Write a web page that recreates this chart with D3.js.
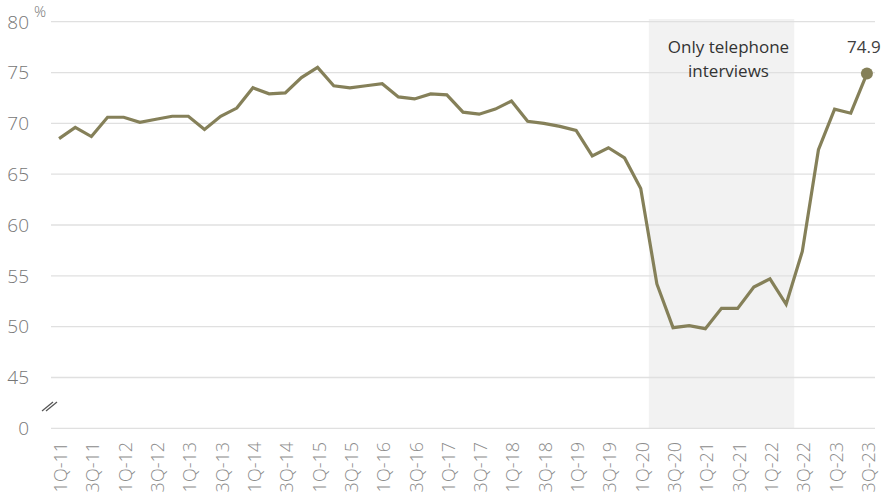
<!DOCTYPE html>
<html><head><meta charset="utf-8">
<script src="https://cdn.jsdelivr.net/npm/d3@7"></script>
<style>body{margin:0;background:#fff;}svg{display:block;font-family:"Open Sans","Noto Sans",sans-serif;}</style>
</head><body><svg id="c" width="884" height="499"></svg>
<script>
const years = d3.range(11, 24);
const quarters = [];
years.forEach(y => [1,2,3,4].forEach(q => { if (!(y === 23 && q === 4)) quarters.push(q + "Q-" + y); }));
const values = [68.5,69.6,68.7,70.6,70.6,70.1,70.4,70.7,70.7,69.4,
  70.7,71.5,73.5,72.9,73.0,74.5,75.5,73.7,73.5,73.7,
  73.9,72.6,72.4,72.9,72.8,71.1,70.9,71.4,72.2,70.2,
  70.0,69.7,69.3,66.8,67.6,66.6,63.6,54.2,49.9,50.1,
  49.8,51.8,51.8,53.9,54.7,52.2,57.4,67.4,71.4,71.0,74.9];
const yTicks = [45,50,55,60,65,70,75,80];
const shadeRange = ["2Q-20","2Q-22"];
const shadeText = ["Only telephone","interviews"];

const svg = d3.select("#c");
const x = d3.scaleBand().domain(quarters).range([51, 875]);
const y = d3.scaleLinear().domain([40, 80]).range([428.3, 21.7]);
const cx = d => x(d) + x.bandwidth()/2;

// shading
svg.append("rect").attr("x", x(shadeRange[0])).attr("y", 19)
  .attr("width", x(shadeRange[1]) + x.bandwidth() - x(shadeRange[0]))
  .attr("height", y(40) - 19).attr("fill", "#f2f2f2");

// gridlines
const grid = yTicks.concat([40]);
svg.append("g").selectAll("line").data(grid).join("line")
  .attr("x1", 51).attr("x2", 875).attr("y1", d => y(d)).attr("y2", d => y(d))
  .attr("stroke", "#e0e0e0").attr("stroke-width", 1.3);

// y labels
svg.append("g").selectAll("text").data(grid).join("text")
  .attr("x", 29).attr("y", d => y(d)).attr("dy", "0.36em").attr("text-anchor", "end")
  .attr("font-size", 19).attr("font-weight", 300).attr("fill", "#767676").text(d => d === 40 ? "0" : d);
svg.append("text").attr("x", 34).attr("y", 17).attr("font-size", 15).attr("font-weight", 300).attr("fill", "#767676").text("%");

// axis break
[0, 4].forEach(o => svg.append("line").attr("x1", 42 + o).attr("y1", 411).attr("x2", 53 + o).attr("y2", 402)
  .attr("stroke", "#555").attr("stroke-width", 1.2));

// x labels
svg.append("g").selectAll("text").data(quarters.filter((d, i) => i % 2 === 0)).join("text")
  .attr("transform", d => `translate(${cx(d) + 1.5},442) rotate(-90)`)
  .attr("dy", "0.36em").attr("text-anchor", "end").attr("font-size", 18).attr("font-weight", 300)
  .attr("fill", "#8c8c8c").text(d => d);

// line
const line = d3.line().x((d, i) => cx(quarters[i])).y(d => y(d));
svg.append("path").datum(values).attr("d", line).attr("fill", "none")
  .attr("stroke", "#858059").attr("stroke-width", 3.2).attr("stroke-linejoin", "miter");

const last = quarters.length - 1;
svg.append("circle").attr("cx", cx(quarters[last])).attr("cy", y(values[last])).attr("r", 6).attr("fill", "#858059");
svg.append("text").attr("x", cx(quarters[last]) - 3).attr("y", y(values[last]) - 21).attr("text-anchor", "middle")
  .attr("font-size", 17).attr("fill", "#404040").text(values[last].toFixed(1));

const mid = (x(shadeRange[0]) + x(shadeRange[1]) + x.bandwidth())/2 + 7;
svg.append("g").selectAll("text").data(shadeText).join("text")
  .attr("x", mid).attr("y", (d, i) => 53 + i*23.5).attr("text-anchor", "middle")
  .attr("font-size", 17).attr("fill", "#333").text(d => d);
</script></body></html>
